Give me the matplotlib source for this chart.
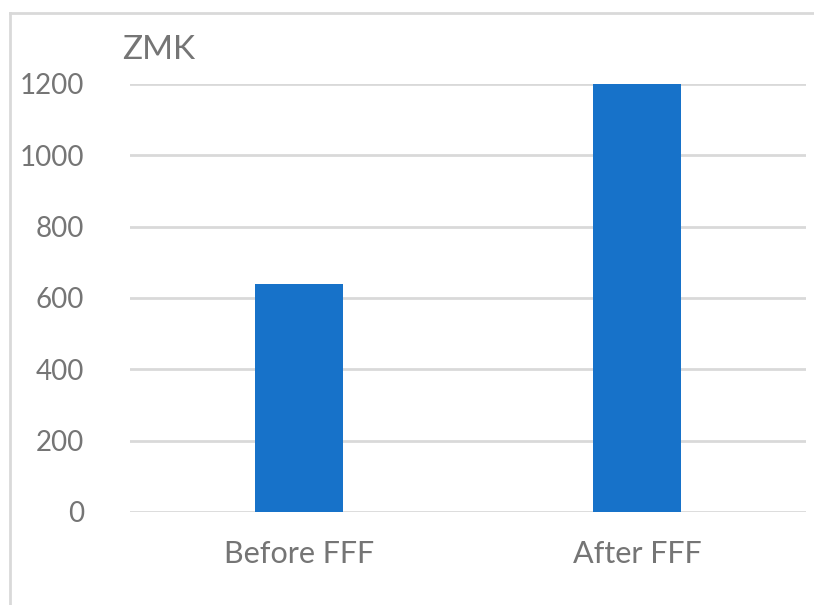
import matplotlib

matplotlib.use('Agg')
import matplotlib.pyplot as plt

matplotlib.rcParams['font.family'] = ['Lato', 'DejaVu Sans']

categories = ['Before FFF', 'After FFF']
values = [639, 1205]
yticks = [0, 200, 400, 600, 800, 1000, 1200]

text_color = '#757575'
grid_color = '#d9d9d9'
bar_color = '#1772c9'

W, H = 814, 605
fig = plt.figure(figsize=(W / 100, H / 100), dpi=100)
ax = fig.add_axes([130 / W, 1 - 512 / H, 676 / W, 428 / H])

ax.bar(range(len(categories)), values, width=0.26, color=bar_color, zorder=3)
ax.set_xlim(-0.5, len(categories) - 0.5)
ax.set_ylim(0, 1200)
ax.set_yticks(yticks)
ax.set_xticks(range(len(categories)))
ax.set_xticklabels(categories)
ax.yaxis.grid(True, color=grid_color, linewidth=2, zorder=0)
ax.set_axisbelow(True)
ax.tick_params(axis='both', length=0, colors=text_color)
ax.tick_params(axis='y', labelsize=20, pad=33)
ax.tick_params(axis='x', labelsize=22, pad=20)
for s in ax.spines.values():
    s.set_visible(False)

ax.text(-8 / 676, 1 + 34 / 428, 'ZMK', transform=ax.transAxes, fontsize=24,
        color=text_color, ha='left', va='center')

# chart frame (top and left edges visible)
fig.add_artist(plt.Line2D([10 / W, 1], [1 - 13 / H, 1 - 13 / H],
                          color=grid_color, linewidth=2))
fig.add_artist(plt.Line2D([10 / W, 10 / W], [0, 1 - 13 / H],
                          color=grid_color, linewidth=2))

fig.savefig('out.png', dpi=100)
